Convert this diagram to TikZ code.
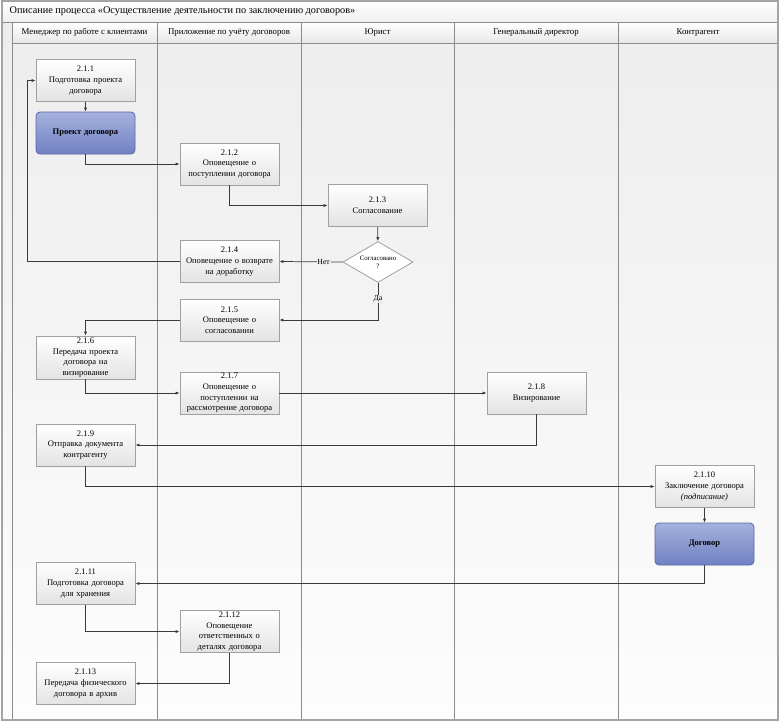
\documentclass[tikz,border=0pt]{standalone}
\usepackage{fontspec}
\setmainfont{Liberation Serif}
\usetikzlibrary{arrows.meta,shapes.geometric}
\definecolor{frameC}{HTML}{A4A4A4}
\definecolor{laneC}{HTML}{8C8C8C}
\definecolor{boxC}{HTML}{A0A0A0}
\definecolor{boxBot}{HTML}{E3E3E3}
\definecolor{blueTop}{HTML}{A5B1DD}
\definecolor{blueBot}{HTML}{7080C2}
\definecolor{blueDraw}{HTML}{5A69A6}
\definecolor{bgTop}{HTML}{EDEDED}
\definecolor{bgBot}{HTML}{FDFDFD}
\definecolor{connC}{HTML}{3A3A3A}
\tikzset{
  proc/.style={rectangle, draw=boxC, line width=0.6pt, top color=white, bottom color=boxBot,
    minimum width=74.25pt, minimum height=31.5pt, inner sep=0pt, text width=72pt, align=center,
    font=\fontsize{6.4}{8}\selectfont},
  doc/.style={rectangle, rounded corners=3pt, draw=blueDraw, line width=0.6pt, top color=blueTop, bottom color=blueBot,
    minimum width=74.25pt, minimum height=31.5pt, inner sep=0pt, text width=72pt, align=center,
    font=\fontsize{6.4}{8}\selectfont\bfseries},
  decis/.style={diamond, draw=boxC, line width=0.6pt, fill=white, inner sep=0pt, aspect=1.7,
    minimum width=52.5pt, minimum height=30.75pt, align=center, font=\fontsize{5.1}{6.3}\selectfont},
  conn/.style={draw=connC, line width=0.55pt, -{Latex[length=3pt,width=2.4pt]}},
  lbl/.style={font=\fontsize{5.8}{7}\selectfont, fill=bgTop, inner sep=0.5pt},
  lane/.style={draw=laneC, line width=0.75pt},
  hdr/.style={font=\fontsize{6.6}{8}\selectfont, anchor=center},
}
\begin{document}
\begin{tikzpicture}[x=0.75pt, y=-0.75pt]
\useasboundingbox (0,0) rectangle (780,722);
% body background
\shade[top color=bgTop, bottom color=bgBot] (2,22) rectangle (778,720);
% title bar
\shade[top color=white, bottom color=black!6] (2,1) rectangle (778,22);
% header row
\shade[top color=white, bottom color=black!9] (12,22) rectangle (778,43);
\node[anchor=west, font=\fontsize{7.7}{9}\selectfont] (title) at (5,11.5) {Описание процесса «Осуществление деятельности по заключению договоров»};
% lanes
\draw[lane] (2,22) -- (778,22);
\draw[lane] (12,43) -- (778,43);
\foreach \xx in {12,157,301,454,618} { \draw[lane] (\xx,22) -- (\xx,720); }
\draw[draw=frameC, line width=1.2pt] (2,1) rectangle (778,720);
\node[hdr] (h1) at (84.5,32.5) {Менеджер по работе с клиентами};
\node[hdr] (h2) at (229,32.5) {Приложение по учёту договоров};
\node[hdr] (h3) at (377.5,32.5) {Юрист};
\node[hdr] (h4) at (536,32.5) {Генеральный директор};
\node[hdr] (h5) at (698,32.5) {Контрагент};
% nodes
\node[proc] (n1) at (85.5,80.5) {2.1.1\\Подготовка проекта\\договора};
\node[doc] (p1) at (85.5,133) {Проект договора};
\node[proc] (n2) at (229.5,164) {2.1.2\\Оповещение о\\поступлении договора};
\node[proc] (n3) at (377.5,205.5) {2.1.3\\Согласование};
\node[decis] (d) at (378,262) {Согласовано\\?};
\node[proc] (n4) at (229.5,261.5) {2.1.4\\Оповещение о возврате\\на доработку};
\node[proc] (n5) at (229.5,320) {2.1.5\\Оповещение о\\согласовании};
\node[proc, minimum height=32.25pt] (n6) at (85.5,357.5) {2.1.6\\Передача проекта\\договора на\\визирование};
\node[proc] (n7) at (229.5,393) {2.1.7\\Оповещение о\\поступлении на\\рассмотрение договора};
\node[proc] (n8) at (536.5,393) {2.1.8\\Визирование};
\node[proc] (n9) at (85.5,445) {2.1.9\\Отправка документа\\контрагенту};
\node[proc] (n10) at (704.5,486.5) {2.1.10\\Заключение договора\\\textit{(подписание)}};
\node[doc] (p2) at (704.5,544) {Договор};
\node[proc] (n11) at (85.5,583.5) {2.1.11\\Подготовка договора\\для хранения};
\node[proc] (n12) at (229.5,631.5) {2.1.12\\Оповещение\\ответственных о\\деталях договора};
\node[proc] (n13) at (85.5,683.5) {2.1.13\\Передача физического\\договора в архив};
\coordinate (r1) at (27,261.5);
% connectors
\draw[conn] (n1) -- (p1);
\draw[conn] (p1.south) |- (n2.west);
\draw[conn] (n2.south) |- (n3.west);
\draw[conn] (n3) -- (d);
\draw[conn] (d.west) -- node[lbl, pos=0.3] {Нет} (n4.east);
\draw[conn] (d.south) |- node[lbl, pos=0.22] {Да} (n5.east);
\draw[conn] (n4.west) -- (r1) |- (n1.west);
\draw[conn] (n5.west) -| (n6.north);
\draw[conn] (n6.south) |- (n7.west);
\draw[conn] (n7) -- (n8);
\draw[conn] (n8.south) |- (n9.east);
\draw[conn] (n9.south) |- (n10.west);
\draw[conn] (n10) -- (p2);
\draw[conn] (p2.south) |- (n11.east);
\draw[conn] (n11.south) |- (n12.west);
\draw[conn] (n12.south) |- (n13.east);
\end{tikzpicture}
\end{document}
